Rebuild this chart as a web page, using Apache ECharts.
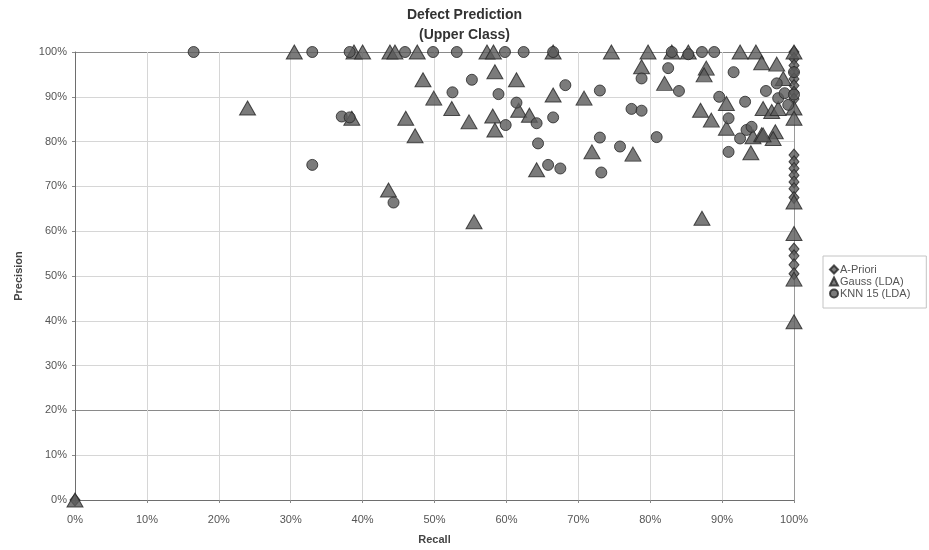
<!DOCTYPE html>
<html>
<head>
<meta charset="utf-8">
<script src="https://cdn.jsdelivr.net/npm/echarts@6/dist/echarts.min.js"></script>
<style>
  html, body { margin: 0; padding: 0; background: #fff; }
  #chart { width: 929px; height: 550px; }
</style>
</head>
<body>
<div id="chart"></div>
<script>
// Recall / precision pairs (in %) for each classifier
const aprioriPoints = [
  [100, 100], [100, 98.5], [100, 97], [100, 95.5], [100, 94], [100, 92.5],
  [100, 91], [100, 89.5], [100, 77], [100, 75.5], [100, 74], [100, 72.5],
  [100, 71], [100, 69.5], [100, 67.5], [100, 56], [100, 54.5], [100, 52.5],
  [100, 50.5], [0, 0]
];

const gaussPoints = [
  [30.5, 100], [38.8, 100], [40, 100], [43.8, 100], [44.5, 100], [47.6, 100],
  [57.3, 100], [58.2, 100], [66.5, 100], [74.6, 100], [79.7, 100], [83, 100],
  [85.3, 100], [92.5, 100], [94.7, 100], [100, 100],
  [24, 87.5], [38.5, 85.2], [43.6, 69.2], [46, 85.2], [47.3, 81.3], [48.4, 93.8],
  [49.9, 89.7], [52.4, 87.4], [54.8, 84.4], [55.5, 62.1], [58.1, 85.7],
  [58.4, 82.6], [58.4, 95.6], [61.4, 93.8], [61.7, 87], [63.2, 85.9],
  [64.2, 73.7], [66.5, 90.4], [70.8, 89.7], [71.9, 77.7], [77.6, 77.2],
  [78.8, 96.7], [82, 93], [87, 87], [87.2, 62.9], [87.8, 96.4], [87.5, 94.9],
  [88.5, 84.8], [90.6, 88.5], [90.6, 83], [94, 77.5], [94.3, 81.1],
  [95.5, 81.5], [95.5, 97.6], [97.6, 97.3], [98.5, 94.1], [95.7, 87.4],
  [96.9, 86.7], [97.8, 87.4], [97.4, 82.2], [97.1, 80.7], [95.7, 81.5],
  [100, 87.5], [100, 85.2], [100, 66.5], [100, 59.5], [100, 49.3], [100, 39.8],
  [0, 0]
];

const knnPoints = [
  [16.5, 100], [33, 100], [38.2, 100], [45.9, 100], [49.8, 100], [53.1, 100],
  [59.8, 100], [62.4, 100], [66.5, 100], [83, 100], [85.3, 99.5], [87.2, 100],
  [88.9, 100],
  [33, 74.8], [37.1, 85.6], [38.2, 85.4], [44.3, 66.4], [52.5, 91], [55.2, 93.8],
  [58.9, 90.6], [59.9, 83.7], [61.4, 88.7], [64.2, 84.1], [64.4, 79.6],
  [65.8, 74.8], [66.5, 85.4], [67.5, 74], [68.2, 92.6], [73, 91.4], [73, 80.9],
  [73.2, 73.1], [75.8, 78.9], [77.4, 87.3], [78.8, 86.9], [78.8, 94.1],
  [80.9, 81], [82.5, 96.4], [84, 91.3], [89.6, 90], [91.6, 95.5], [90.9, 85.2],
  [93.2, 88.9], [92.5, 80.7], [93.4, 82.6], [94.1, 83.3], [90.9, 77.7],
  [96.1, 91.3], [97.6, 93], [97.8, 89.7], [98.7, 90.8], [99.2, 88.2],
  [100, 95.5], [100, 90.5]
];

const axisTicks = [0, 10, 20, 30, 40, 50, 60, 70, 80, 90, 100];

const FONT = "'Liberation Sans', Arial, sans-serif";
const markerStyle = { color: '#5a5a5a', borderColor: '#262626', borderWidth: 1 };

// horizontal grid lines: the 20% line is drawn darker, as is the top edge
const hLineColors = axisTicks.map(v => v === 20 ? '#8a8a8a' : (v === 100 ? '#8a8a8a' : '#d6d6d6'));
const vLineColors = axisTicks.map(v => v === 100 ? '#9a9a9a' : '#d6d6d6');

const chart = echarts.init(document.getElementById('chart'), null, { renderer: 'canvas' });

chart.setOption({
  backgroundColor: '#ffffff',
  animation: false,
  textStyle: { fontFamily: FONT },
  title: {
    text: 'Defect Prediction\n(Upper Class)',
    left: 'center',
    top: 0,
    textStyle: { fontFamily: FONT, fontSize: 14, fontWeight: 'bold', color: '#333', lineHeight: 20 }
  },
  legend: {
    orient: 'vertical',
    left: 823,
    top: 256,
    padding: [8, 16, 9, 6],
    itemGap: 1,
    itemWidth: 8,
    itemHeight: 8,
    borderColor: '#c4c4c4',
    borderWidth: 1,
    textStyle: { fontFamily: FONT, fontSize: 11, color: '#555', lineHeight: 11, padding: [0, 0, 0, -3] },
    data: ['A-Priori', 'Gauss (LDA)', 'KNN 15 (LDA)']
  },
  grid: { left: 75, right: 135, top: 52, bottom: 50 },
  xAxis: {
    type: 'value',
    min: 0, max: 100, interval: 10,
    name: 'Recall',
    nameLocation: 'middle',
    nameGap: 34,
    nameTextStyle: { fontFamily: FONT, fontSize: 11, fontWeight: 'bold', color: '#444' },
    axisLine: { show: true, lineStyle: { color: '#6e6e6e', width: 1 } },
    axisTick: { show: true, length: 3, lineStyle: { color: '#8a8a8a' } },
    axisLabel: { formatter: '{value}%', margin: 14, fontSize: 11, color: '#555', fontFamily: FONT },
    splitLine: { show: true, lineStyle: { color: vLineColors, width: 1 } }
  },
  yAxis: {
    type: 'value',
    min: 0, max: 100, interval: 10,
    name: 'Precision',
    nameLocation: 'middle',
    nameGap: 51,
    nameTextStyle: { fontFamily: FONT, fontSize: 11, fontWeight: 'bold', color: '#444' },
    axisLine: { show: true, lineStyle: { color: '#6e6e6e', width: 1 } },
    axisTick: { show: true, length: 3, lineStyle: { color: '#8a8a8a' } },
    axisLabel: { formatter: '{value}%', margin: 8, fontSize: 11, color: '#555', fontFamily: FONT },
    splitLine: { show: true, lineStyle: { color: hLineColors, width: 1 } }
  },
  series: [
    {
      name: 'A-Priori', type: 'scatter', symbol: 'diamond', symbolSize: [10, 12],
      clip: false, itemStyle: markerStyle, data: aprioriPoints
    },
    {
      name: 'Gauss (LDA)', type: 'scatter', symbol: 'triangle', symbolSize: [16, 14],
      clip: false, itemStyle: markerStyle, data: gaussPoints
    },
    {
      name: 'KNN 15 (LDA)', type: 'scatter', symbol: 'circle', symbolSize: 11,
      clip: false, itemStyle: markerStyle, data: knnPoints
    }
  ]
});
</script>
</body>
</html>
